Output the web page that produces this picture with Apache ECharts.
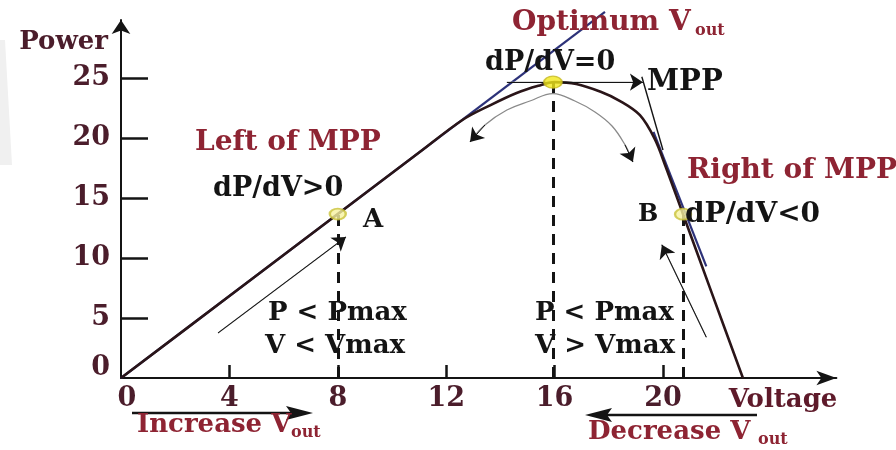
<!DOCTYPE html>
<html>
<head>
<meta charset="utf-8">
<script src="https://cdn.jsdelivr.net/npm/echarts@6/dist/echarts.min.js"></script>
<style>
  html, body { margin: 0; padding: 0; background: #ffffff; }
  #chart { width: 896px; height: 450px; }
</style>
</head>
<body>
<div id="chart"></div>
<script>
// P–V characteristic of a PV source, sampled along the curve (V, W)
const voltage = [0, 4, 8, 11, 12.6, 13.6, 14.6, 15.4, 16, 16.8, 17.7, 18.4, 19.15, 19.7, 20.1, 20.74, 21.8, 22.95];
const power   = [0, 6.83, 13.66, 18.79, 21.5, 22.7, 23.75, 24.35, 24.65, 24.5, 23.85, 23.1, 21.9, 19.9, 17.6, 13.65, 7.09, 0];

// axis ticks
const xTickValues = [0, 4, 8, 12, 16, 20];
const yTickValues = [0, 5, 10, 15, 20, 25];

// operating points on the curve
const pointA   = [8, 13.66];
const pointMPP = [15.94, 24.65];
const pointB   = [20.74, 13.65];

// tangents to the curve
const tangentLeft  = [[0, 0], [17.86, 30.5]];
const tangentRight = [[19.65, 20.5], [21.6, 9.3]];
const tangentKnee  = [[19.22, 25.1], [20.0, 19.0]];

// horizontal tangent at the maximum power point, pointing to the MPP label
const mppLevel = [[14.24, 24.65], [19.26, 24.65]];

// curved double arrow above the knee
const swingArc = [[12.88, 19.67], [13.43, 21.08], [14.24, 22.33], [15.09, 23.08], [15.94, 23.7],
                  [16.75, 23.08], [17.49, 22.17], [18.12, 21.0], [18.6, 19.42], [18.89, 18.0]];

// tracking direction arrows on each side of the MPP
const climbLeft  = [[3.58, 3.75], [8.3, 11.75]];
const climbRight = [[21.6, 3.4], [19.96, 11.1]];

const SERIF = '"DejaVu Serif", serif';
const INK = '#141414';
const NAVY = '#2d3279';
const MAROON = '#4b1d2b';
const RED = '#8e2433';

const curveData = voltage.map((v, i) => [v, power[i]]);
const dropLine = p => ({ coords: [[p[0], 0], p] });
const headOf = (from, to) => ({ coords: [from, to] });

const chart = echarts.init(document.getElementById('chart'));

function txt(text, x, y, size, color) {
  return {
    type: 'text', x: x, y: y, silent: true, z: 50,
    style: { text: text, font: 'bold ' + size + 'px ' + SERIF, fill: color, align: 'left', verticalAlign: 'middle' }
  };
}

const option = {
  backgroundColor: '#ffffff',
  animation: false,
  grid: { left: 121, right: 59.6, top: 20, bottom: 72 },
  xAxis: {
    type: 'value', min: 0, max: 26.4,
    splitLine: { show: false },
    axisLine: { show: true, onZero: false, symbol: ['none', 'arrow'], symbolSize: [11, 20],
                lineStyle: { color: INK, width: 2 } },
    axisTick: { show: true, inside: true, length: 13, customValues: [4, 8, 12, 16, 20],
                lineStyle: { color: INK, width: 2.5 } },
    axisLabel: {
      customValues: xTickValues, margin: 7,
      color: MAROON, fontFamily: SERIF, fontWeight: 'bold', fontSize: 27,
      formatter: v => v === 0 ? '{z|0}' : String(v),
      rich: { z: { color: MAROON, fontFamily: SERIF, fontWeight: 'bold', fontSize: 27, padding: [0, 0, 0, 12] } }
    },
    name: '{v|Voltage}', nameLocation: 'end', nameGap: 1,
    nameTextStyle: {
      align: 'right', verticalAlign: 'middle',
      rich: { v: { color: '#5e1a2a', fontFamily: SERIF, fontWeight: 'bold', fontSize: 26, padding: [44, 0, 0, 0] } }
    }
  },
  yAxis: {
    type: 'value', min: 0, max: 29.83,
    splitLine: { show: false },
    axisLine: { show: true, onZero: false, symbol: ['none', 'arrow'], symbolSize: [14, 14],
                lineStyle: { color: INK, width: 2 } },
    axisTick: { show: true, inside: true, length: 27, customValues: [5, 10, 15, 20, 25],
                lineStyle: { color: INK, width: 2.5 } },
    axisLabel: {
      customValues: yTickValues, margin: 11,
      color: MAROON, fontFamily: SERIF, fontWeight: 'bold', fontSize: 27,
      formatter: v => v === 0 ? '{z|0}' : String(v),
      rich: { z: { color: MAROON, fontFamily: SERIF, fontWeight: 'bold', fontSize: 27, padding: [0, 0, 20, 0] } }
    },
    name: 'Power', nameLocation: 'end', nameGap: -22,
    nameTextStyle: { color: MAROON, fontFamily: SERIF, fontWeight: 'bold', fontSize: 26,
                     align: 'right', verticalAlign: 'middle', padding: [0, 13, 0, 0] }
  },
  series: [
    { type: 'line', data: tangentLeft, symbol: 'none', clip: false, silent: true, z: 2,
      lineStyle: { color: NAVY, width: 2.2 } },
    { type: 'line', data: tangentRight, symbol: 'none', clip: false, silent: true, z: 2,
      lineStyle: { color: NAVY, width: 2.2 } },
    { type: 'line', data: tangentKnee, symbol: 'none', clip: false, silent: true, z: 2,
      lineStyle: { color: INK, width: 1.4 } },
    { type: 'line', data: curveData, symbol: 'none', smooth: 0.35, silent: true, z: 3,
      lineStyle: { color: '#2a1518', width: 2.6 } },
    { type: 'line', data: mppLevel, symbol: 'none', silent: true, z: 2,
      lineStyle: { color: '#9a9a9a', width: 1 } },
    { type: 'line', data: swingArc, symbol: 'none', smooth: 0.4, silent: true, z: 2,
      lineStyle: { color: '#8a8a8a', width: 1.3 } },
    { type: 'line', data: climbLeft, symbol: 'none', silent: true, z: 2,
      lineStyle: { color: '#8a8a8a', width: 1.3 } },
    { type: 'line', data: climbRight, symbol: 'none', silent: true, z: 2,
      lineStyle: { color: '#8a8a8a', width: 1.3 } },
    // arrow heads
    { type: 'lines', coordinateSystem: 'cartesian2d', silent: true, z: 4,
      symbol: ['none', 'arrow'], symbolSize: 13,
      lineStyle: { color: INK, width: 1, opacity: 1 },
      data: [
        headOf(swingArc[1], swingArc[0]),
        headOf(swingArc[swingArc.length - 2], swingArc[swingArc.length - 1]),
        headOf(climbLeft[0], climbLeft[1]),
        headOf(climbRight[0], climbRight[1]),
        headOf(mppLevel[0], mppLevel[1])
      ] },
    // drop lines from the operating points
    { type: 'lines', coordinateSystem: 'cartesian2d', silent: true, z: 3,
      lineStyle: { color: INK, width: 3, type: [11, 8], opacity: 1 },
      data: [dropLine(pointA), dropLine(pointMPP), dropLine(pointB)] },
    { type: 'scatter', data: [pointA, pointB], symbol: 'circle', symbolSize: [16, 11], silent: true, z: 6,
      itemStyle: { color: '#f6f3a0', borderColor: '#c9c23a', borderWidth: 2 } },
    { type: 'scatter', data: [pointMPP], symbol: 'circle', symbolSize: [18, 12], silent: true, z: 6,
      itemStyle: { color: '#f2e81a', borderColor: '#c4b820', borderWidth: 1.5 } }
  ],
  graphic: [
    { type: 'polygon', silent: true, z: 0, shape: { points: [[0, 40], [5, 40], [12, 165], [0, 165]] },
      style: { fill: '#f0f0f0' } },
    txt('Optimum V', 512, 23, 28, RED),
    txt('out', 695, 31, 16, RED),
    txt('dP/dV=0', 485, 63, 27, INK),
    txt('MPP', 647, 82, 29, INK),
    txt('Left of MPP', 195, 143, 28, RED),
    txt('dP/dV>0', 213, 189, 27, INK),
    txt('A', 363, 220, 26, INK),
    txt('Right of MPP', 687, 171, 28, RED),
    txt('B', 638, 215, 24, INK),
    txt('dP/dV<0', 685, 215, 28, INK),
    txt('P < Pmax', 268, 313, 26, INK),
    txt('V < Vmax', 265, 346, 26, INK),
    txt('P < Pmax', 535, 313, 26, INK),
    txt('V > Vmax', 535, 346, 26, INK),
    txt('Increase V', 137, 425, 26, RED),
    txt('out', 291, 433, 16, RED),
    txt('Decrease V', 588, 432, 26, RED),
    txt('out', 758, 440, 16, RED),
    { type: 'line', silent: true, shape: { x1: 132, y1: 413, x2: 292, y2: 413 },
      style: { stroke: INK, lineWidth: 2.5 } },
    { type: 'polygon', silent: true, shape: { points: [[313, 413], [286, 406], [291, 413], [286, 420]] },
      style: { fill: INK } },
    { type: 'line', silent: true, shape: { x1: 757, y1: 415, x2: 606, y2: 415 },
      style: { stroke: INK, lineWidth: 2.5 } },
    { type: 'polygon', silent: true, shape: { points: [[585, 415], [612, 408], [607, 415], [612, 422]] },
      style: { fill: INK } }
  ]
};

chart.setOption(option);
</script>
</body>
</html>
